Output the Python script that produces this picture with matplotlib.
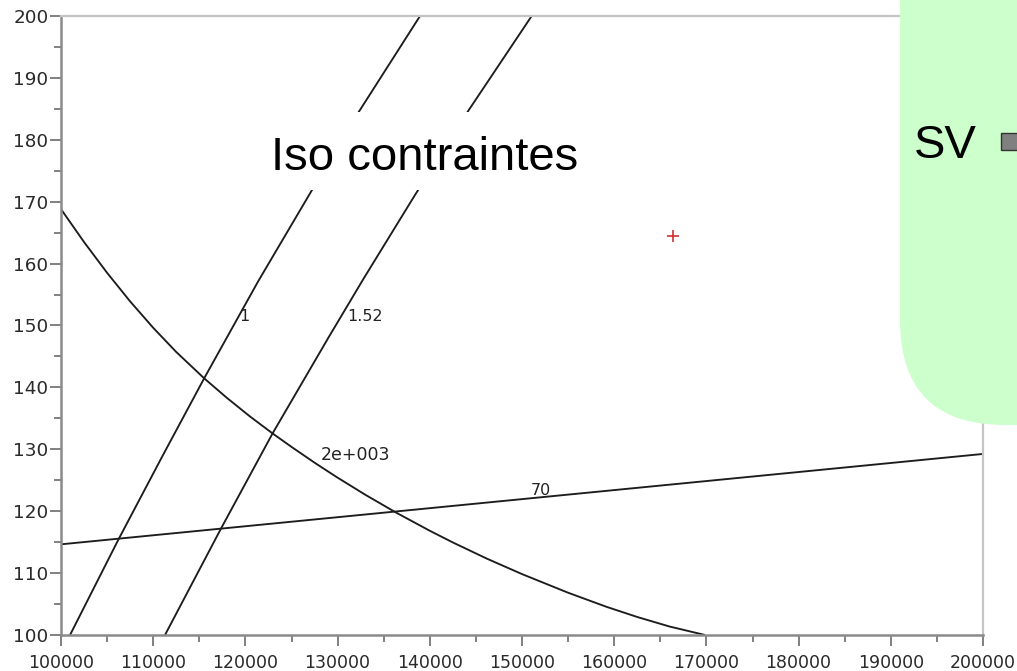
import matplotlib
matplotlib.use("Agg")
import matplotlib.pyplot as plt
from matplotlib.patches import FancyBboxPatch, Rectangle
from matplotlib.transforms import Affine2D

# ---------------- data ----------------
iso1_x = [100980, 106220, 111000, 115540, 121370, 127190, 132250, 138940]
iso1_y = [100.0, 115.4, 128.9, 141.5, 157.1, 171.8, 184.4, 200.0]

iso152_x = [111280, 117320, 122960, 128990, 132790, 138400, 144180, 151050]
iso152_y = [100.0, 117.1, 132.6, 148.0, 157.5, 171.1, 184.7, 200.0]

iso2000_x = [100000, 102500, 105000, 107500, 110000, 112500, 115540, 118000,
             120500, 122960, 125000, 127500, 129870, 133000, 136410, 140000,
             142500, 146170, 150000, 155000, 159190, 162500, 166000, 169850]
iso2000_y = [168.8, 163.48, 158.51, 153.89, 149.63, 145.72, 141.45, 138.30,
             135.30, 132.55, 130.39, 127.84, 125.54, 122.66, 119.72, 116.84,
             114.95, 112.35, 109.84, 106.83, 104.54, 102.91, 101.37, 100.0]

iso70_x = [100000, 150000, 200000]
iso70_y = [114.65, 121.95, 129.25]

point_x = [166380]
point_y = [164.5]

contour_labels = ["1", "1.52", "2e+003", "70"]
label_x = [119850, 132970, 131990, 152060]
label_y = [151.5, 151.5, 129.1, 123.3]

x_ticks = [100000, 110000, 120000, 130000, 140000, 150000, 160000, 170000, 180000, 190000, 200000]
x_ticklabels = ["100000", "110000", "120000", "130000", "140000", "150000",
                "160000", "170000", "180000", "190000", "200000"]
y_ticks = [100, 110, 120, 130, 140, 150, 160, 170, 180, 190, 200]
y_ticklabels = ["100", "110", "120", "130", "140", "150", "160", "170", "180", "190", "200"]

title_text = "Iso contraintes"
side_text = "SV"

# ---------------- figure ----------------
W, H = 1017, 671
fig = plt.figure(figsize=(W / 100, H / 100), dpi=100)
fig.patch.set_facecolor("white")

L, R, T, B = 61, 983, 16, 635
ax = fig.add_axes([L / W, (H - B) / H, (R - L) / W, (B - T) / H])

line_kw = dict(color="#1c1c1c", lw=1.35, solid_capstyle="butt", solid_joinstyle="round")
ax.plot(iso1_x, iso1_y, **line_kw)
ax.plot(iso152_x, iso152_y, **line_kw)
ax.plot(iso2000_x, iso2000_y, **line_kw)
ax.plot(iso70_x, iso70_y, **line_kw)
ax.plot(point_x, point_y, marker="+", color="#d03030", ms=9, mew=1.2, ls="none")

label_sizes = [11.5, 11.5, 12.5, 11.5]
for t, x, y, fs in zip(contour_labels, label_x, label_y, label_sizes):
    ax.text(x, y, t, ha="center", va="center", fontsize=fs, color="#222222",
            family="DejaVu Sans")

ax.set_xlim(100000, 200000)
ax.set_ylim(100, 200)
ax.set_xticks(x_ticks)
ax.set_xticklabels(x_ticklabels)
ax.set_yticks(y_ticks)
ax.set_yticklabels(y_ticklabels)
ax.set_xticks([x + 5000 for x in x_ticks[:-1]], minor=True)
ax.set_yticks([y + 5 for y in y_ticks[:-1]], minor=True)

ax.tick_params(axis="both", which="major", direction="out", length=8, width=1.4,
               color="#808080", labelcolor="#2a2a2a")
ax.tick_params(axis="both", which="minor", direction="out", length=5, width=1.4,
               color="#808080")
ax.tick_params(axis="x", which="major", pad=6, labelsize=12.5)
ax.tick_params(axis="y", which="major", pad=1, labelsize=13.2)
ax.tick_params(top=False, right=False, which="both")

for s in ["left", "bottom"]:
    ax.spines[s].set_color("#8a8a8a")
    ax.spines[s].set_linewidth(1.8)
for s in ["top", "right"]:
    ax.spines[s].set_color("#c4c4c4")
    ax.spines[s].set_linewidth(1.6)

# ---------------- overlays (pixel coordinates, y from top) ----------------
pix = Affine2D().scale(1 / W, -1 / H).translate(0, 1) + fig.transFigure

green = FancyBboxPatch((900, -200), 300, 625, boxstyle="round,pad=0,rounding_size=105",
                       transform=pix, facecolor="#ccffcc", edgecolor="none", zorder=5)
fig.add_artist(green)

box = Rectangle((262, 112), 340, 78, transform=pix, facecolor="white",
                edgecolor="none", zorder=5)
fig.add_artist(box)

fig.text(271 / W, 1 - 170 / H, title_text, ha="left", va="baseline",
         fontsize=34, family="Liberation Sans", color="black", zorder=6)
fig.text(914 / W, 1 - 157.5 / H, side_text, ha="left", va="baseline",
         fontsize=34, family="Liberation Sans", color="black", zorder=6)

square = Rectangle((1001, 132.5), 40, 17.5, transform=pix, facecolor="#808080",
                   edgecolor="#333333", lw=1.0, zorder=6)
fig.add_artist(square)

fig.savefig("out.png", dpi=100)
